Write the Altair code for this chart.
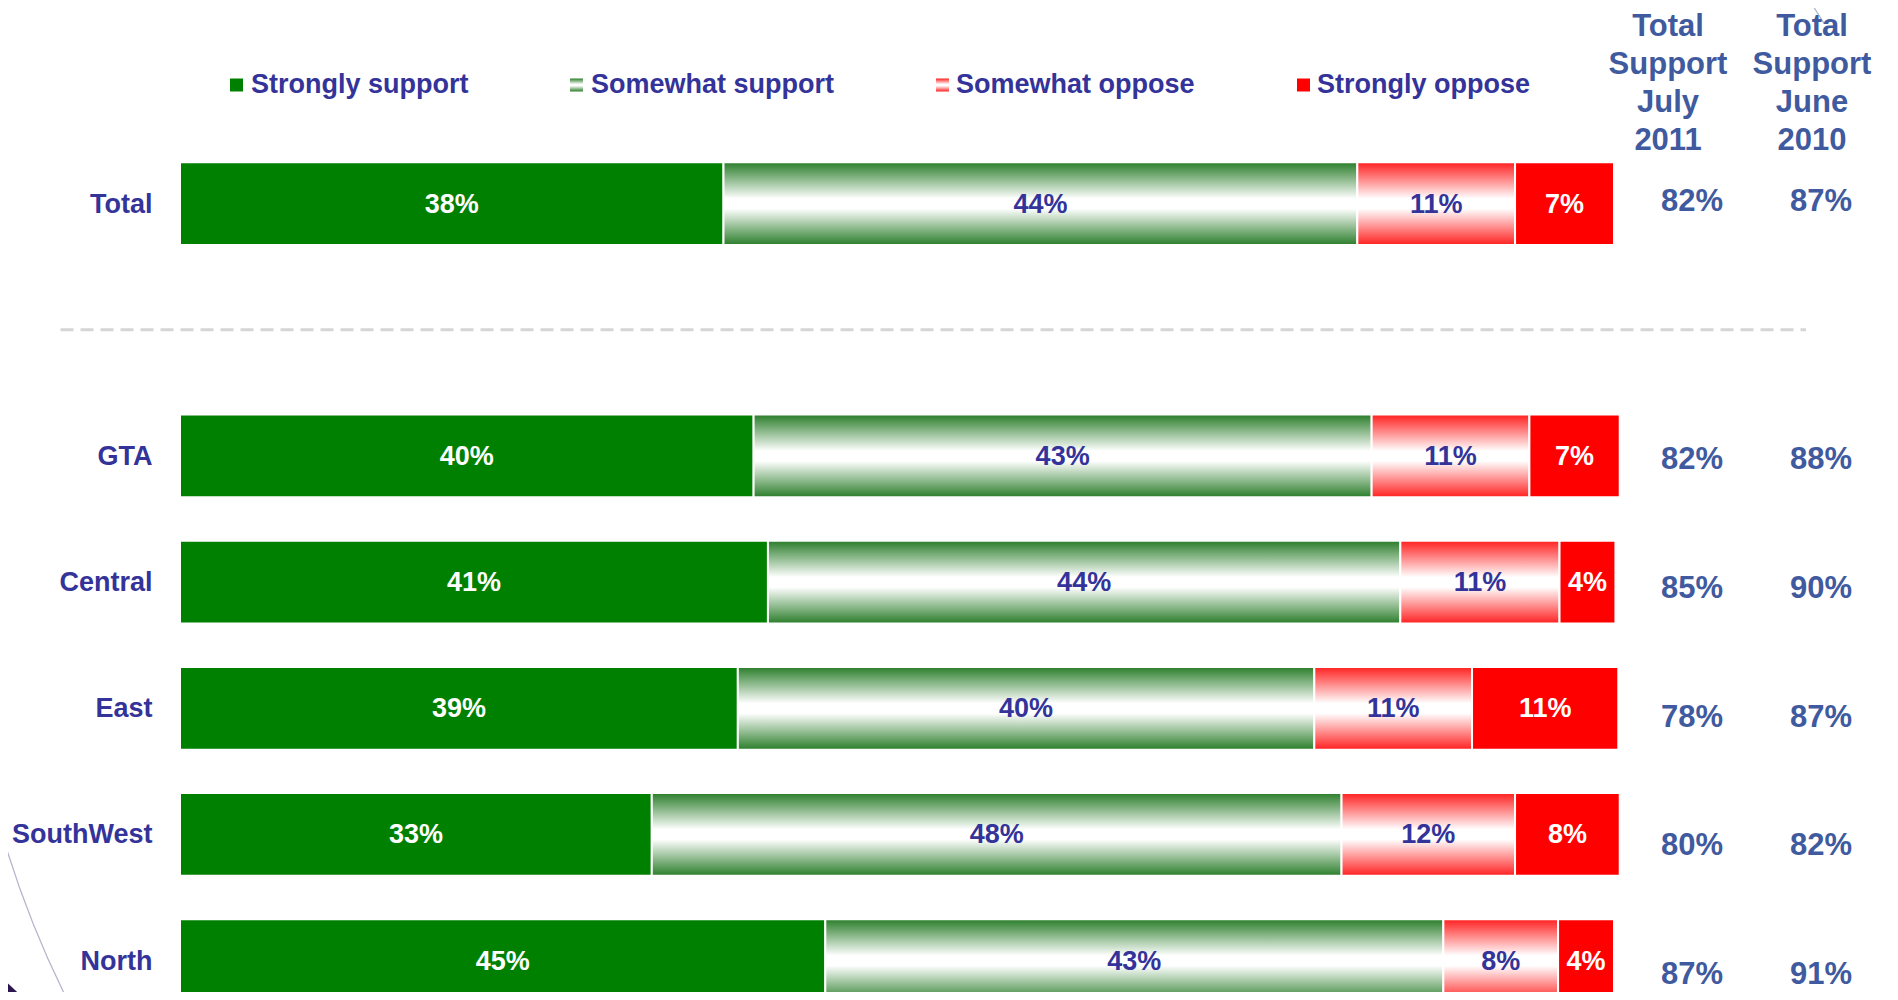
import altair as alt
import pandas as pd

# ---------------- data ----------------
regions = ["Total", "GTA", "Central", "East", "SouthWest", "North"]
categories = ["Strongly support", "Somewhat support", "Somewhat oppose", "Strongly oppose"]
# bar lengths (percent of respondents)
strongly_support = [37.9, 40.0, 41.0, 38.9, 32.9, 45.0]
somewhat_support = [44.2, 43.1, 44.1, 40.2, 48.1, 43.1]
somewhat_oppose = [11.0, 11.0, 11.1, 11.0, 12.1, 8.0]
strongly_oppose = [6.9, 6.3, 3.9, 10.2, 7.3, 3.9]
# printed segment labels
strongly_support_lbl = ["38%", "40%", "41%", "39%", "33%", "45%"]
somewhat_support_lbl = ["44%", "43%", "44%", "40%", "48%", "43%"]
somewhat_oppose_lbl = ["11%", "11%", "11%", "11%", "12%", "8%"]
strongly_oppose_lbl = ["7%", "7%", "4%", "11%", "8%", "4%"]
support_july_2011 = [82, 82, 85, 78, 80, 87]
support_june_2010 = [87, 88, 90, 87, 82, 91]
column_keys = ["July 2011", "June 2010"]
column_headers = ["Total\nSupport\nJuly\n2011", "Total\nSupport\nJune\n2010"]

SPACER = "spacer"
rows = [regions[0], SPACER] + regions[1:]

FONT = "Liberation Sans, Arial, Helvetica, sans-serif"
NAVY = "#333399"
STEEL = "#3F5A9E"
GREEN = "#008000"
RED = "#FF0000"

green_grad = alt.Gradient(
    gradient="linear", x1=0, x2=0, y1=0, y2=1,
    stops=[alt.GradientStop(color="#2A7D2A", offset=0),
           alt.GradientStop(color="#FFFFFF", offset=0.44),
           alt.GradientStop(color="#FFFFFF", offset=0.56),
           alt.GradientStop(color="#2A7D2A", offset=1)])
red_grad = alt.Gradient(
    gradient="linear", x1=0, x2=0, y1=0, y2=1,
    stops=[alt.GradientStop(color="#FF2020", offset=0),
           alt.GradientStop(color="#FFFFFF", offset=0.44),
           alt.GradientStop(color="#FFFFFF", offset=0.56),
           alt.GradientStop(color="#FF2020", offset=1)])
fills = [GREEN, green_grad, red_grad, RED]

# ---------------- tables ----------------
series = [strongly_support, somewhat_support, somewhat_oppose, strongly_oppose]
labels = [strongly_support_lbl, somewhat_support_lbl, somewhat_oppose_lbl, strongly_oppose_lbl]
recs = []
for i, reg in enumerate(regions):
    start = 0.0
    for cat, vals, lbls in zip(categories, series, labels):
        v = vals[i]
        recs.append({"region": reg, "category": cat, "value": v,
                     "start": start, "end": start + v, "mid": start + v / 2,
                     "label": lbls[i]})
        start += v
bars_df = pd.DataFrame(recs)

tot_recs = []
for i, reg in enumerate(regions):
    tot_recs.append({"region": reg, "column": column_keys[0], "label": f"{support_july_2011[i]}%"})
    tot_recs.append({"region": reg, "column": column_keys[1], "label": f"{support_june_2010[i]}%"})
tot_df = pd.DataFrame(tot_recs)
head_df = pd.DataFrame({"column": column_keys, "header": column_headers})
reg_df = pd.DataFrame({"region": regions})
legend_df = pd.DataFrame({"category": categories})
spacer_df = pd.DataFrame({"row": [SPACER]})
one = pd.DataFrame({"d": [0]})

# ---------------- scales ----------------
xs = alt.Scale(domain=[0, 100], range=[172, 1606], nice=False, zero=False)
ys = alt.Scale(type="band", domain=rows, range=[132.6, 1015.65],
               paddingInner=0.344, paddingOuter=0.172)
ys_tot = alt.Scale(type="band", domain=rows, range=[128.1, 1029.4],
                   paddingInner=0, paddingOuter=0)
xs_tot = alt.Scale(type="point", domain=column_keys, range=[1684, 1813], padding=0)
xs_head = alt.Scale(type="point", domain=column_keys, range=[1660, 1804], padding=0)

layers = []

# decorative slide arcs
layers.append(alt.Chart(one).mark_arc(radius=1006.5, radius2=1005.2, theta=4.2, theta2=4.44,
                                      fill="#B6B6CC").encode(x=alt.value(959), y=alt.value(542)))
layers.append(alt.Chart(one).mark_arc(radius=1006.5, radius2=1005.2, theta=0.965, theta2=1.02,
                                      fill="#B6B6CC").encode(x=alt.value(959), y=alt.value(542)))
layers.append(alt.Chart(one).mark_arc(radius=237, radius2=0, theta=0, theta2=6.28,
                                      fill="#2B1650").encode(x=alt.value(-158), y=alt.value(1152)))

# dashed separator
layers.append(alt.Chart(spacer_df).mark_rule(strokeDash=[13, 7], strokeWidth=3, color="#D5D5D5").encode(
    y=alt.Y("row:N", scale=ys, axis=None, bandPosition=0.5),
    x=alt.value(52.5), x2=alt.value(1798)))

# bars
for cat, fill in zip(categories, fills):
    layers.append(alt.Chart(bars_df).transform_filter(alt.datum.category == cat).mark_bar(
        fill=fill, stroke="white", strokeWidth=2, clip=True).encode(
        x=alt.X("start:Q", scale=xs, axis=None),
        x2="end:Q",
        y=alt.Y("region:N", scale=ys, axis=None)))

# bar labels
layers.append(alt.Chart(bars_df).mark_text(font=FONT, fontSize=27, fontWeight="bold",
                                           baseline="middle", align="center", dy=1).encode(
    x=alt.X("mid:Q", scale=xs, axis=None),
    y=alt.Y("region:N", scale=ys, axis=None, bandPosition=0.5),
    text="label:N",
    color=alt.condition(alt.FieldOneOfPredicate(field="category",
                                                oneOf=["Strongly support", "Strongly oppose"]),
                        alt.value("white"), alt.value(NAVY))))

# region labels
layers.append(alt.Chart(reg_df).mark_text(font=FONT, fontSize=27, fontWeight="bold",
                                          baseline="middle", align="right", color=NAVY, dy=1).encode(
    y=alt.Y("region:N", scale=ys, axis=None, bandPosition=0.5),
    x=alt.value(144.5),
    text="region:N"))

# total support values
layers.append(alt.Chart(tot_df).mark_text(font=FONT, fontSize=31, fontWeight="bold",
                                          baseline="middle", align="center", color=STEEL, dy=2).encode(
    y=alt.Y("region:N", scale=ys_tot, axis=None, bandPosition=0.5),
    x=alt.X("column:N", scale=xs_tot, axis=None),
    text="label:N"))

# column headers
layers.append(alt.Chart(head_df).mark_text(font=FONT, fontSize=31, fontWeight="bold",
                                           baseline="alphabetic", align="center", color=STEEL,
                                           lineBreak="\n", lineHeight=38).encode(
    x=alt.X("column:N", scale=xs_head, axis=None),
    y=alt.value(28),
    text="header:N"))

# custom legend
key_x = [222, 562, 928, 1289]
txt_x = [243, 583, 948, 1309]
for cat, fill, kx, tx in zip(categories, fills, key_x, txt_x):
    layers.append(alt.Chart(legend_df).transform_filter(alt.datum.category == cat).mark_rect(
        fill=fill).encode(x=alt.value(kx), x2=alt.value(kx + 13), y=alt.value(70.5), y2=alt.value(83.5)))
    layers.append(alt.Chart(legend_df).transform_filter(alt.datum.category == cat).mark_text(
        font=FONT, fontSize=27, fontWeight="bold", baseline="middle", align="left", color=NAVY).encode(
        x=alt.value(tx), y=alt.value(77), text="category:N"))

chart = alt.layer(*layers).resolve_scale(x="independent", y="independent").properties(
    width=1882, height=984, autosize=alt.AutoSizeParams(type="none"), padding=0,
    background="white").configure_view(stroke=None)

chart.save("out.html", embed_options={"renderer": "svg", "actions": False})
